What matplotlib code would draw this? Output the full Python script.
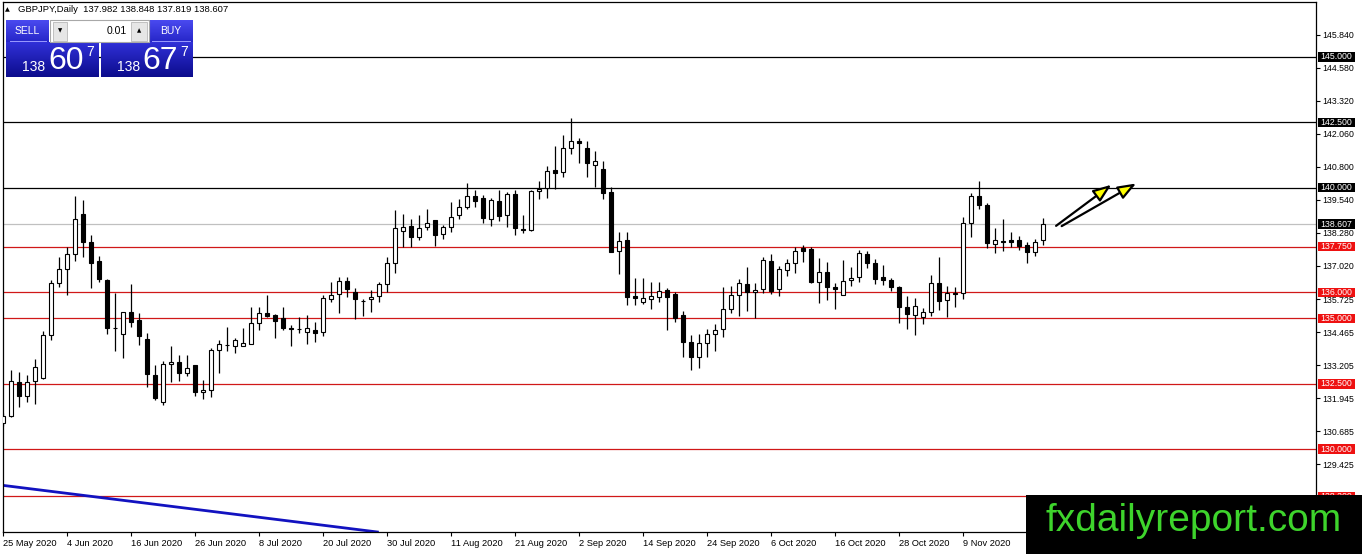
import numpy as np
import pandas as pd
import matplotlib
matplotlib.use('Agg')
import matplotlib.pyplot as plt
import matplotlib.colors as mcolors
import matplotlib.transforms as mtransforms
from matplotlib.patches import Rectangle

# ---------------- data (GBPJPY daily) ----------------
opens = [130.99, 131.26, 132.57, 132.02, 132.59, 132.72, 134.35, 136.35, 136.88, 137.45,
         138.99, 137.91, 137.20, 136.47, 134.64, 134.40, 135.26, 134.95, 134.21, 132.85,
         131.80, 133.25, 133.33, 132.91, 133.23, 132.20, 132.25, 133.79, 133.99, 133.94,
         133.96, 134.02, 134.82, 135.20, 135.12, 135.02, 134.62, 134.60, 134.50, 134.55,
         134.48, 135.76, 135.93, 136.42, 136.02, 135.68, 135.73, 135.87, 136.32, 137.11,
         138.36, 138.52, 138.12, 138.48, 138.76, 138.21, 138.48, 138.94, 139.27, 139.68,
         139.59, 138.82, 139.50, 138.95, 139.75, 138.42, 138.37, 139.87, 139.97, 140.67,
         140.60, 141.53, 141.77, 141.53, 140.88, 140.73, 139.83, 137.56, 138.00, 135.86,
         135.61, 135.76, 135.81, 136.07, 135.95, 135.13, 134.09, 133.54, 134.05, 134.40,
         134.61, 135.35, 135.88, 136.32, 136.00, 136.11, 137.20, 136.13, 136.85, 137.11,
         137.68, 137.64, 136.38, 136.79, 136.19, 135.90, 136.47, 136.57, 137.45, 137.13,
         136.58, 136.47, 136.22, 135.43, 135.13, 135.05, 135.24, 136.37, 135.71, 135.99,
         135.96, 138.63, 139.70, 139.32, 137.83, 137.96, 137.99, 137.98, 137.79, 137.53,
         137.982]
highs = [131.38, 133.04, 132.97, 132.85, 133.45, 134.53, 136.47, 137.34, 137.75, 139.69,
         139.53, 138.19, 137.39, 136.52, 135.99, 135.26, 136.32, 135.20, 134.46, 133.22,
         133.36, 133.95, 133.61, 133.61, 133.23, 132.66, 133.86, 134.18, 134.69, 134.25,
         134.63, 135.42, 135.42, 135.90, 135.16, 135.44, 134.75, 135.07, 135.14, 134.87,
         135.90, 136.41, 136.57, 136.60, 136.15, 135.73, 136.09, 136.41, 137.36, 139.14,
         138.99, 138.82, 138.94, 139.17, 138.76, 138.59, 139.44, 139.55, 140.16, 139.93,
         139.71, 139.59, 139.91, 139.84, 139.90, 138.95, 139.93, 140.25, 140.82, 141.58,
         142.00, 142.68, 141.91, 141.79, 141.39, 141.01, 140.01, 138.31, 138.31, 136.53,
         136.53, 136.38, 136.41, 136.15, 136.02, 135.30, 134.37, 134.41, 134.60, 134.78,
         136.19, 136.24, 136.50, 136.98, 136.37, 137.36, 137.46, 137.00, 137.26, 137.72,
         137.80, 137.72, 137.30, 137.17, 136.37, 137.23, 136.98, 137.61, 137.59, 137.26,
         137.04, 136.56, 136.24, 135.86, 135.77, 135.39, 136.66, 137.34, 136.24, 136.19,
         138.89, 139.80, 140.25, 139.42, 138.44, 138.82, 138.29, 138.16, 137.93, 138.02,
         138.848]
lows = [130.87, 131.23, 131.60, 131.79, 131.74, 132.69, 134.16, 136.22, 135.91, 137.21,
        137.36, 136.18, 136.41, 134.41, 133.74, 133.48, 134.69, 133.97, 132.37, 131.89,
        131.70, 132.57, 132.62, 132.78, 132.02, 131.92, 131.99, 132.91, 133.74, 133.67,
        133.96, 134.02, 134.54, 135.04, 134.25, 134.54, 133.93, 134.44, 134.02, 134.08,
        134.31, 135.63, 135.22, 135.83, 134.97, 135.11, 135.26, 135.61, 136.01, 136.75,
        137.73, 137.73, 138.00, 138.38, 137.78, 138.05, 138.32, 138.81, 139.17, 139.27,
        138.66, 138.53, 138.72, 138.51, 138.19, 138.25, 138.35, 139.57, 139.61, 139.96,
        140.41, 141.28, 140.95, 140.41, 140.03, 139.55, 137.55, 136.69, 135.50, 135.50,
        135.54, 135.36, 135.61, 134.54, 134.87, 133.52, 133.04, 133.10, 133.54, 133.77,
        134.30, 135.20, 135.10, 135.30, 135.01, 135.99, 135.92, 135.86, 136.64, 136.75,
        137.17, 136.34, 135.60, 135.71, 135.35, 135.90, 136.24, 136.41, 136.92, 136.30,
        136.28, 136.06, 134.84, 134.59, 134.35, 134.79, 135.11, 135.33, 135.04, 135.43,
        135.73, 138.12, 139.17, 137.68, 137.49, 137.59, 137.74, 137.61, 137.13, 137.39,
        137.819]
closes = [131.25, 132.59, 132.02, 132.57, 133.14, 134.37, 136.35, 136.88, 137.45, 138.79,
          137.91, 137.11, 136.50, 134.63, 134.62, 135.26, 134.88, 134.31, 132.87, 131.94,
          133.25, 133.34, 132.91, 133.10, 132.20, 132.27, 133.79, 134.03, 133.98, 134.17,
          134.05, 134.82, 135.20, 135.11, 134.92, 134.65, 134.61, 134.59, 134.62, 134.46,
          135.77, 135.91, 136.42, 136.11, 135.76, 135.67, 135.83, 136.30, 137.11, 138.44,
          138.48, 138.12, 138.44, 138.66, 138.19, 138.48, 138.89, 139.27, 139.68, 139.50,
          138.85, 139.52, 138.91, 139.75, 138.44, 138.37, 139.87, 139.96, 140.62, 140.57,
          141.53, 141.77, 141.71, 140.95, 141.01, 139.80, 137.55, 137.97, 135.83, 135.79,
          135.77, 135.86, 136.05, 135.83, 135.01, 134.08, 133.54, 134.05, 134.40, 134.56,
          135.35, 135.88, 136.34, 136.00, 136.10, 137.23, 136.06, 136.88, 137.11, 137.59,
          137.58, 136.41, 136.79, 136.19, 136.11, 136.44, 136.56, 137.49, 137.13, 136.50,
          136.46, 136.22, 135.43, 135.17, 135.48, 135.26, 136.37, 135.68, 135.99, 135.95,
          138.63, 139.70, 139.32, 137.87, 137.98, 137.91, 137.92, 137.78, 137.53, 137.91,
          138.607]

first_date = '2020-05-25'
date_labels = ['25 May 2020', '4 Jun 2020', '16 Jun 2020', '26 Jun 2020', '8 Jul 2020',
               '20 Jul 2020', '30 Jul 2020', '11 Aug 2020', '21 Aug 2020', '2 Sep 2020',
               '14 Sep 2020', '24 Sep 2020', '6 Oct 2020', '16 Oct 2020', '28 Oct 2020',
               '9 Nov 2020']

black_levels = [145.0, 142.5, 140.0]
red_levels = [137.75, 136.0, 135.0, 132.5, 130.0, 128.2]
current_price = 138.607
price_ticks = [145.840, 144.580, 143.320, 142.060, 140.800, 139.540, 138.280, 137.020,
               135.725, 134.465, 133.205, 131.945, 130.685, 129.425]

trend_points = [(-0.41, 128.63), (46.84, 126.83)]
arrow_starts = [(131.6, 138.54), (132.3, 138.53)]
arrow_ends = [(138.5, 140.11), (141.6, 140.16)]

header_text = "GBPJPY,Daily  137.982 138.848 137.819 138.607"
sell_price = ("138", "60", "7")
buy_price = ("138", "67", "7")
lot_size = "0.01"
watermark = "fxdailyreport.com"

# ---------------- figure ----------------
W, H = 1362, 554
fig = plt.figure(figsize=(W / 100, H / 100), dpi=100)
fig.patch.set_facecolor('white')
FONT = ['Liberation Sans', 'DejaVu Sans']
plt.rcParams['font.family'] = FONT

ax_l, ax_r, ax_t, ax_b = 2.7, 1316.0, 2.0, 532.0
ax = fig.add_axes([ax_l / W, (H - ax_b) / H, (ax_r - ax_l) / W, (ax_b - ax_t) / H])
ax.set_facecolor('white')

n = len(opens)
o = np.array(opens); h = np.array(highs); l = np.array(lows); c = np.array(closes)
x = np.arange(n)
dates = pd.bdate_range(first_date, periods=n)

ax.set_xlim(-0.075, 164.09)
ax.set_ylim(126.833, 147.10)

# level lines
for lv in black_levels:
    ax.axhline(lv, color='black', lw=0.9, zorder=2)
for lv in red_levels:
    ax.axhline(lv, color='#d01818', lw=0.9, zorder=2)
ax.axhline(current_price, color='#c0c0c0', lw=0.9, zorder=1.5)

# trend line
ax.axline(trend_points[0], trend_points[1], color='#1212c0', lw=2.0, zorder=2.5)

# candles
ax.vlines(x, l, h, color='black', lw=0.9, zorder=3)
bottoms = np.minimum(o, c)
heights = np.abs(c - o)
faces = ['white' if cc >= oo else 'black' for oo, cc in zip(o, c)]
ax.bar(x, heights, bottom=bottoms, width=0.5, color=faces, edgecolor='black',
       linewidth=0.8, zorder=4)

# arrows
for s, e in zip(arrow_starts, arrow_ends):
    ax.annotate('', xy=e, xytext=s,
                arrowprops=dict(arrowstyle='-|>,head_length=1.0,head_width=0.38',
                                facecolor='#ffff00', edgecolor='black', lw=1.6,
                                mutation_scale=11, shrinkA=0, shrinkB=0),
                zorder=6)

# axes styling
for sp in ax.spines.values():
    sp.set_color('black')
    sp.set_linewidth(0.9)
ax.yaxis.tick_right()
ax.set_yticks(price_ticks)
ax.set_yticklabels([f"{v:.3f}" for v in price_ticks])
ax.tick_params(axis='y', length=3, width=0.8, pad=1.5, labelsize=6.3, colors='black')

label_pos = []
for lab in date_labels:
    d = pd.to_datetime(lab, format='%d %b %Y')
    label_pos.append(int(np.where(dates == d)[0][0]))
ax.set_xticks(label_pos)
ax.set_xticklabels(date_labels, ha='left')
ax.tick_params(axis='x', length=3, width=0.8, pad=2, labelsize=6.7, colors='black')
for t in ax.get_xticklabels():
    t.set_horizontalalignment('left')

# boxed level labels on price axis
trans = mtransforms.blended_transform_factory(ax.transAxes, ax.transData)
axw = ax_r - ax_l
box_h = 9.5 / 26.15
def level_label(val, fc):
    ax.add_patch(Rectangle((1.0 + 2.0 / axw, val - box_h / 2), 37.0 / axw, box_h,
                           transform=trans, facecolor=fc, edgecolor='none',
                           clip_on=False, zorder=8))
    ax.text(1.0 + 20.5 / axw, val, f"{val:.3f}", transform=trans, ha='center',
            va='center', fontsize=6.3, color='white', clip_on=False, zorder=9)

for lv in black_levels:
    level_label(lv, 'black')
level_label(current_price, 'black')
for lv in red_levels:
    level_label(lv, '#ee1111')

# ---------------- overlay (pixel coordinates) ----------------
ov = fig.add_axes([0, 0, 1, 1], zorder=20)
ov.set_xlim(0, W)
ov.set_ylim(H, 0)
ov.axis('off')

def grad_box(x0, y0, x1, y1, top, bottom):
    g = np.linspace(0, 1, 64)[:, None, None]
    ct = np.array(mcolors.to_rgb(top))[None, None, :]
    cb = np.array(mcolors.to_rgb(bottom))[None, None, :]
    img = ct * (1 - g) + cb * g
    ov.imshow(img, extent=(x0, x1, y1, y0), aspect='auto', interpolation='bilinear',
              zorder=1)

# header
ov.text(5, 10, '▲', fontsize=4.5, color='black', va='center', ha='left',
        family=['DejaVu Sans'])
ov.text(18, 10, header_text, fontsize=6.8, color='black', va='center', ha='left')

# trade widget
grad_box(6, 20, 49, 42, '#4a4af0', '#2626c8')
grad_box(149, 20, 193, 42, '#4a4af0', '#2626c8')
grad_box(6, 42, 99, 77, '#3030d8', '#0c0c8c')
grad_box(101, 42, 193, 77, '#3030d8', '#0c0c8c')
ov.add_patch(Rectangle((50, 20), 99, 22, facecolor='white', edgecolor='#a8a8a8', lw=0.8, zorder=2))
ov.add_patch(Rectangle((53, 21.5), 14, 19, facecolor='#e6e6e6', edgecolor='#b8b8b8', lw=0.6, zorder=3))
ov.add_patch(Rectangle((131, 21.5), 16, 19, facecolor='#e6e6e6', edgecolor='#b8b8b8', lw=0.6, zorder=3))
ov.text(60, 31, '▼', fontsize=4, ha='center', va='center', color='black', family=['DejaVu Sans'], zorder=4)
ov.text(139, 31, '▲', fontsize=4, ha='center', va='center', color='black', family=['DejaVu Sans'], zorder=4)
ov.text(127, 31, lot_size, fontsize=7.5, ha='right', va='center', color='black', zorder=4)
ov.plot([10, 46], [41, 41], color='#9a9aff', lw=0.7, zorder=3)
ov.plot([152, 190], [41, 41], color='#9a9aff', lw=0.7, zorder=3)
ov.text(27.5, 31, 'SELL', fontsize=7.5, ha='center', va='center', color='white', zorder=4)
ov.text(171, 31, 'BUY', fontsize=7.5, ha='center', va='center', color='white', zorder=4)

for (x_small, x_big, x_sup), parts in [((22, 48, 86), sell_price), ((117, 142, 180), buy_price)]:
    ov.text(x_small, 71, parts[0], fontsize=10, ha='left', va='baseline', color='white', zorder=4)
    ov.text(x_big, 69, parts[1], fontsize=23, ha='left', va='baseline', color='white', zorder=4)
    ov.text(x_sup, 56, parts[2], fontsize=10, ha='left', va='baseline', color='white', zorder=4)

# watermark box
ov.add_patch(Rectangle((1026, 495), W - 1026, H - 495, facecolor='black', edgecolor='none', zorder=5))
ov.text(1194, 531, watermark, fontsize=28, ha='center', va='baseline', color='#3ed42c', zorder=6)

ov.set_xlim(0, W)
ov.set_ylim(H, 0)

fig.savefig('out.png', dpi=100, facecolor='white')
